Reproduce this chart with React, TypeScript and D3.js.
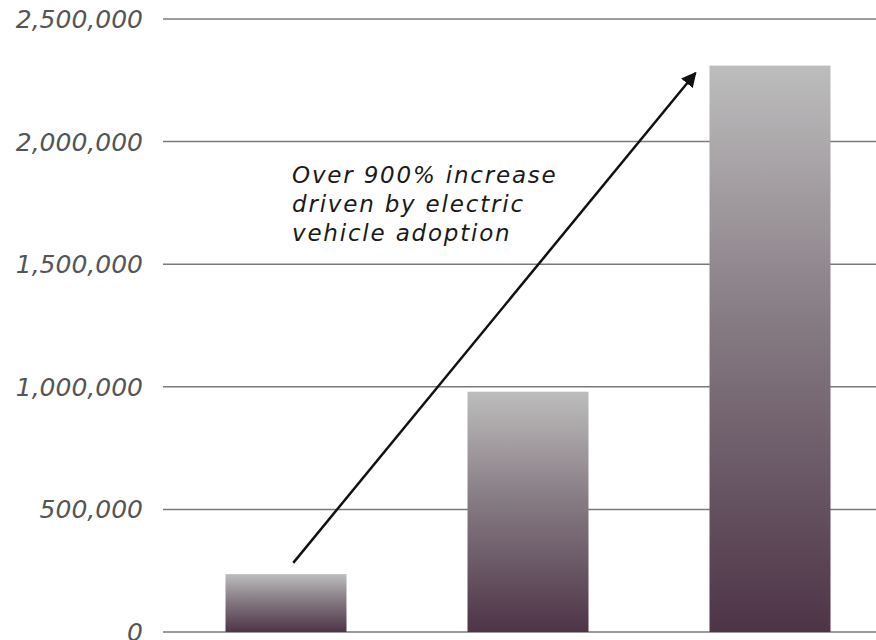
import React from 'react';
import * as d3 from 'd3';

// bar values (no category labels are shown)
const categories = ['A', 'B', 'C'];
const values = [236000, 980000, 2310000];
const yTicks = [0, 500000, 1000000, 1500000, 2000000, 2500000];
const noteLines = ['Over 900% increase', 'driven by electric', 'vehicle adoption'];

const width = 876;
const height = 640;

const App: React.FC = () => {
  const yScale = d3.scaleLinear().domain([0, 2500000]).range([632, 19]);

  const xScale = d3.scaleBand<string>()
    .domain(categories)
    .range([165, 891])
    .paddingInner(0.5)
    .paddingOuter(0.25);

  const fmt = d3.format(',');

  // arrow runs from just above the first bar to just left of the last one
  const x1 = (xScale(categories[0]) || 0) + xScale.bandwidth() * 0.56;
  const y1 = yScale(282000);
  const x2 = (xScale(categories[2]) || 0) - 14;
  const y2 = yScale(2280000);

  return (
    <svg width={width} height={height} style={{ position: 'absolute', left: 0, top: 0 }}>
      <defs>
        <linearGradient id="barGrad" x1="0" y1="0" x2="0" y2="1">
          <stop offset="0%" stopColor="#bdbdbd" />
          <stop offset="45%" stopColor="#867b83" />
          <stop offset="100%" stopColor="#4d3447" />
        </linearGradient>
        <marker id="arrowHead" viewBox="0 0 10 10" refX="9" refY="5"
          markerWidth="6" markerHeight="6" orient="auto">
          <path d="M0,0 L10,5 L0,10 z" fill="#111" />
        </marker>
      </defs>

      {yTicks.map(t => (
        <g key={t}>
          <line x1={163} x2={width} y1={yScale(t)} y2={yScale(t)} stroke="#7a7a7a" strokeWidth={1.5} />
          <text x={143} y={yScale(t)} dy="0.36em" textAnchor="end"
            fontFamily="'DejaVu Sans', sans-serif" fontStyle="italic" fontWeight={300}
            fontSize={25} fill="#555">
            {fmt(t)}
          </text>
        </g>
      ))}

      {categories.map((c, i) => (
        <rect key={c}
          x={xScale(c)}
          y={yScale(values[i])}
          width={xScale.bandwidth()}
          height={yScale(0) - yScale(values[i])}
          fill="url(#barGrad)" />
      ))}

      <line x1={x1} y1={y1} x2={x2} y2={y2} stroke="#111" strokeWidth={2.5} markerEnd="url(#arrowHead)" />

      <text fontFamily="'DejaVu Sans', sans-serif" fontStyle="italic" fontSize={23}
        letterSpacing={1.8} fill="#1a1a1a">
        {noteLines.map((l, i) => (
          <tspan key={i} x={292} y={183 + i * 29}>{l}</tspan>
        ))}
      </text>
    </svg>
  );
};

export default App;
